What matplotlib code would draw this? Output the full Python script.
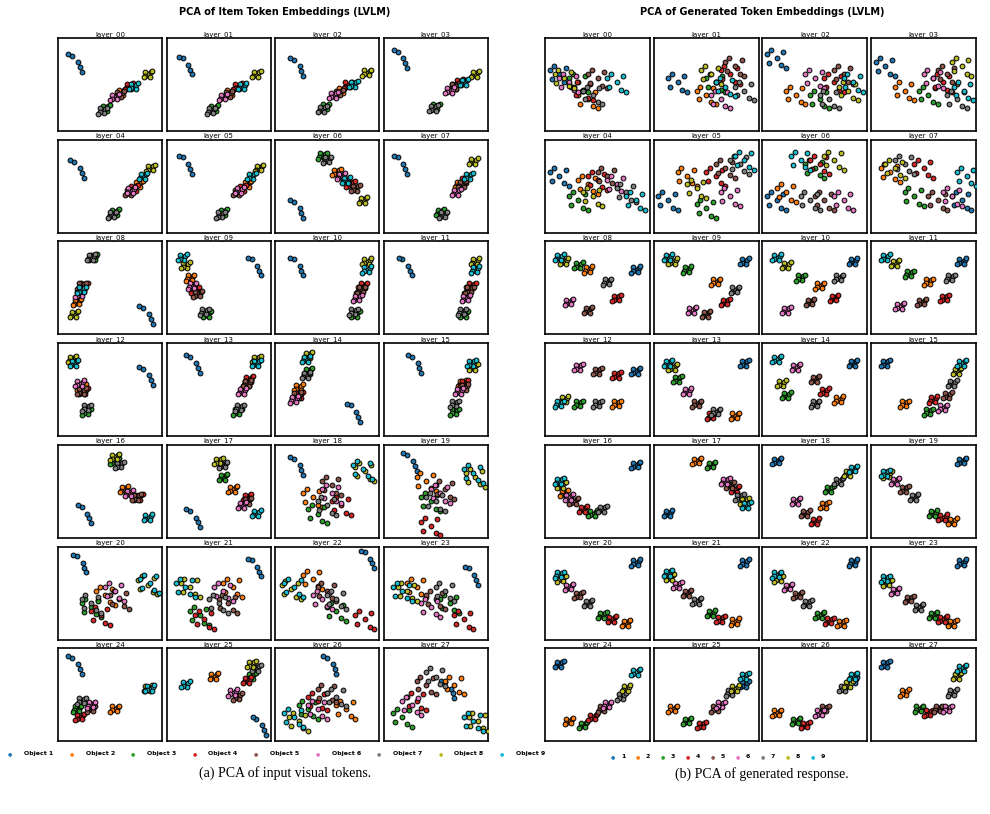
import matplotlib
matplotlib.use("Agg")
import matplotlib.pyplot as plt
import numpy as np

colors = ['#1f77b4', '#ff7f0e', '#2ca02c', '#d62728', '#8c564b', '#e377c2', '#7f7f7f', '#bcbd22', '#17becf']
left_labels = [f"Object {i}" for i in range(1, 10)]
right_labels = [str(i) for i in range(1, 10)]

# class centres per layer (x, y in 0..1), order objects 1..9
left_centers = [
 [(0.1,0.75),(0.62,0.38),(0.45,0.18),(0.7,0.45),(0.6,0.35),(0.55,0.32),(0.42,0.15),(0.9,0.6),(0.75,0.45)],
 [(0.12,0.72),(0.62,0.38),(0.45,0.18),(0.7,0.45),(0.6,0.35),(0.55,0.32),(0.42,0.15),(0.9,0.6),(0.75,0.45)],
 [(0.15,0.7),(0.65,0.4),(0.48,0.2),(0.72,0.47),(0.62,0.37),(0.57,0.34),(0.45,0.17),(0.92,0.62),(0.78,0.48)],
 [(0.1,0.8),(0.7,0.45),(0.5,0.2),(0.75,0.5),(0.7,0.45),(0.65,0.4),(0.48,0.18),(0.92,0.6),(0.8,0.5)],
 [(0.12,0.7),(0.8,0.5),(0.55,0.15),(0.75,0.45),(0.7,0.4),(0.72,0.42),(0.52,0.12),(0.93,0.7),(0.85,0.6)],
 [(0.12,0.75),(0.8,0.5),(0.55,0.15),(0.75,0.45),(0.7,0.4),(0.72,0.42),(0.52,0.12),(0.93,0.7),(0.85,0.6)],
 [(0.15,0.2),(0.6,0.65),(0.45,0.85),(0.75,0.5),(0.8,0.45),(0.65,0.6),(0.5,0.8),(0.88,0.3),(0.7,0.55)],
 [(0.1,0.75),(0.75,0.5),(0.55,0.15),(0.8,0.55),(0.78,0.5),(0.72,0.4),(0.58,0.12),(0.9,0.78),(0.85,0.6)],
 [(0.85,0.15),(0.15,0.3),(0.32,0.85),(0.22,0.5),(0.2,0.5),(0.18,0.4),(0.3,0.85),(0.12,0.15),(0.2,0.45)],
 [(0.85,0.75),(0.2,0.6),(0.38,0.15),(0.25,0.45),(0.28,0.4),(0.22,0.5),(0.35,0.18),(0.15,0.75),(0.12,0.85)],
 [(0.15,0.75),(0.85,0.45),(0.8,0.15),(0.88,0.5),(0.86,0.45),(0.82,0.35),(0.78,0.18),(0.92,0.8),(0.92,0.7)],
 [(0.15,0.75),(0.85,0.45),(0.8,0.15),(0.88,0.5),(0.86,0.45),(0.82,0.35),(0.78,0.18),(0.92,0.8),(0.92,0.7)],
 [(0.85,0.65),(0.2,0.5),(0.25,0.2),(0.22,0.45),(0.2,0.45),(0.18,0.55),(0.25,0.25),(0.1,0.85),(0.12,0.8)],
 [(0.2,0.8),(0.8,0.55),(0.7,0.2),(0.82,0.6),(0.8,0.55),(0.75,0.45),(0.72,0.25),(0.9,0.85),(0.9,0.8)],
 [(0.75,0.2),(0.2,0.5),(0.3,0.7),(0.2,0.4),(0.18,0.4),(0.15,0.35),(0.28,0.65),(0.3,0.9),(0.28,0.85)],
 [(0.25,0.8),(0.78,0.55),(0.7,0.2),(0.8,0.55),(0.8,0.5),(0.75,0.45),(0.7,0.3),(0.9,0.75),(0.88,0.8)],
 [(0.2,0.2),(0.65,0.5),(0.55,0.85),(0.8,0.4),(0.78,0.4),(0.7,0.45),(0.6,0.8),(0.55,0.9),(0.9,0.15)],
 [(0.2,0.15),(0.65,0.5),(0.55,0.65),(0.8,0.4),(0.8,0.35),(0.75,0.3),(0.55,0.8),(0.5,0.85),(0.9,0.2)],
 [(0.15,0.8),(0.35,0.4),(0.4,0.2),(0.65,0.3),(0.55,0.55),(0.55,0.45),(0.5,0.3),(0.9,0.72),(0.88,0.75)],
 [(0.2,0.85),(0.4,0.6),(0.45,0.35),(0.45,0.05),(0.6,0.5),(0.55,0.45),(0.5,0.35),(0.92,0.65),(0.9,0.7)],
 [(0.15,0.85),(0.45,0.45),(0.3,0.3),(0.4,0.2),(0.6,0.4),(0.55,0.5),(0.3,0.35),(0.9,0.58),(0.92,0.6)],
 [(0.85,0.8),(0.65,0.55),(0.3,0.2),(0.35,0.15),(0.6,0.35),(0.55,0.5),(0.5,0.35),(0.2,0.55),(0.15,0.55)],
 [(0.9,0.9),(0.35,0.65),(0.6,0.25),(0.9,0.15),(0.5,0.5),(0.45,0.4),(0.6,0.4),(0.12,0.52),(0.15,0.55)],
 [(0.85,0.7),(0.3,0.55),(0.65,0.35),(0.8,0.15),(0.5,0.4),(0.45,0.3),(0.6,0.5),(0.2,0.5),(0.15,0.5)],
 [(0.1,0.85),(0.55,0.3),(0.15,0.3),(0.18,0.2),(0.3,0.3),(0.3,0.35),(0.2,0.4),(0.9,0.55),(0.92,0.55)],
 [(0.9,0.1),(0.45,0.7),(0.85,0.7),(0.8,0.65),(0.7,0.45),(0.65,0.5),(0.9,0.8),(0.85,0.85),(0.15,0.6)],
 [(0.5,0.85),(0.7,0.3),(0.3,0.3),(0.4,0.4),(0.5,0.5),(0.4,0.3),(0.6,0.45),(0.2,0.15),(0.15,0.2)],
 [(0.6,0.55),(0.7,0.6),(0.15,0.2),(0.3,0.4),(0.4,0.6),(0.25,0.35),(0.5,0.7),(0.95,0.15),(0.9,0.15)],
]

right_centers = [
 [(0.1,0.6),(0.4,0.3),(0.3,0.5),(0.35,0.4),(0.5,0.55),(0.2,0.5),(0.45,0.35),(0.15,0.55),(0.7,0.5)],
 [(0.2,0.5),(0.5,0.35),(0.6,0.5),(0.75,0.6),(0.8,0.7),(0.65,0.3),(0.9,0.4),(0.55,0.6),(0.7,0.45)],
 [(0.1,0.8),(0.3,0.35),(0.55,0.3),(0.7,0.5),(0.8,0.6),(0.5,0.55),(0.65,0.3),(0.85,0.4),(0.9,0.5)],
 [(0.1,0.7),(0.3,0.4),(0.55,0.35),(0.7,0.5),(0.75,0.6),(0.6,0.55),(0.85,0.3),(0.9,0.7),(0.92,0.4)],
 [(0.1,0.6),(0.4,0.5),(0.3,0.3),(0.5,0.55),(0.6,0.6),(0.7,0.5),(0.8,0.4),(0.45,0.35),(0.9,0.3)],
 [(0.1,0.3),(0.3,0.6),(0.5,0.2),(0.6,0.6),(0.7,0.7),(0.75,0.35),(0.85,0.75),(0.4,0.45),(0.9,0.8)],
 [(0.1,0.3),(0.2,0.4),(0.5,0.7),(0.55,0.75),(0.6,0.3),(0.8,0.3),(0.45,0.3),(0.7,0.8),(0.35,0.8)],
 [(0.9,0.3),(0.15,0.65),(0.4,0.35),(0.5,0.7),(0.65,0.3),(0.8,0.35),(0.3,0.75),(0.2,0.7),(0.95,0.6)],
 [(0.9,0.7),(0.4,0.7),(0.3,0.75),(0.7,0.35),(0.4,0.2),(0.2,0.3),(0.6,0.55),(0.15,0.8),(0.1,0.85)],
 [(0.9,0.8),(0.6,0.55),(0.3,0.7),(0.7,0.3),(0.5,0.15),(0.35,0.2),(0.8,0.45),(0.15,0.8),(0.1,0.85)],
 [(0.9,0.8),(0.55,0.5),(0.35,0.6),(0.7,0.35),(0.45,0.3),(0.2,0.2),(0.75,0.6),(0.2,0.75),(0.1,0.85)],
 [(0.9,0.8),(0.55,0.55),(0.35,0.65),(0.72,0.35),(0.48,0.3),(0.25,0.25),(0.78,0.6),(0.2,0.78),(0.1,0.85)],
 [(0.9,0.7),(0.7,0.3),(0.3,0.3),(0.7,0.65),(0.5,0.7),(0.3,0.75),(0.5,0.3),(0.15,0.35),(0.1,0.3)],
 [(0.9,0.8),(0.8,0.15),(0.2,0.6),(0.55,0.15),(0.4,0.3),(0.3,0.45),(0.6,0.2),(0.15,0.75),(0.1,0.8)],
 [(0.9,0.8),(0.75,0.35),(0.2,0.4),(0.6,0.45),(0.5,0.6),(0.3,0.75),(0.5,0.3),(0.15,0.55),(0.1,0.85)],
 [(0.1,0.8),(0.3,0.3),(0.55,0.2),(0.6,0.35),(0.75,0.4),(0.7,0.25),(0.8,0.55),(0.85,0.7),(0.9,0.8)],
 [(0.9,0.8),(0.15,0.45),(0.45,0.2),(0.35,0.25),(0.25,0.35),(0.2,0.4),(0.55,0.25),(0.12,0.55),(0.1,0.6)],
 [(0.1,0.2),(0.4,0.85),(0.55,0.8),(0.8,0.5),(0.75,0.55),(0.7,0.6),(0.85,0.4),(0.9,0.35),(0.92,0.3)],
 [(0.1,0.85),(0.6,0.3),(0.65,0.5),(0.5,0.1),(0.4,0.2),(0.3,0.35),(0.75,0.6),(0.85,0.7),(0.9,0.75)],
 [(0.9,0.85),(0.8,0.1),(0.6,0.2),(0.7,0.15),(0.3,0.5),(0.2,0.6),(0.4,0.4),(0.12,0.68),(0.1,0.7)],
 [(0.9,0.85),(0.8,0.1),(0.55,0.2),(0.65,0.15),(0.3,0.45),(0.2,0.55),(0.4,0.35),(0.12,0.65),(0.1,0.7)],
 [(0.9,0.85),(0.8,0.12),(0.55,0.22),(0.65,0.15),(0.3,0.47),(0.2,0.57),(0.4,0.37),(0.12,0.67),(0.1,0.72)],
 [(0.9,0.85),(0.78,0.1),(0.55,0.2),(0.65,0.13),(0.32,0.45),(0.22,0.55),(0.42,0.35),(0.12,0.65),(0.1,0.7)],
 [(0.9,0.85),(0.8,0.1),(0.6,0.2),(0.7,0.15),(0.35,0.4),(0.2,0.5),(0.45,0.3),(0.12,0.6),(0.1,0.65)],
 [(0.1,0.85),(0.2,0.15),(0.35,0.1),(0.45,0.2),(0.55,0.3),(0.6,0.35),(0.75,0.45),(0.8,0.55),(0.9,0.75)],
 [(0.9,0.6),(0.15,0.3),(0.3,0.15),(0.45,0.1),(0.6,0.3),(0.65,0.35),(0.75,0.5),(0.8,0.55),(0.9,0.7)],
 [(0.9,0.65),(0.1,0.25),(0.3,0.15),(0.4,0.1),(0.6,0.3),(0.55,0.25),(0.8,0.55),(0.85,0.6),(0.9,0.7)],
 [(0.1,0.85),(0.3,0.5),(0.45,0.3),(0.55,0.25),(0.65,0.3),(0.75,0.3),(0.8,0.5),(0.85,0.7),(0.9,0.8)],
]

# fixed within-class point pattern (tight) and a wider one for scattered layers
offsets_x = [0.0, 0.03, -0.025, 0.02, -0.03, 0.045, -0.045]
offsets_y = [0.0, 0.025, 0.03, -0.03, -0.02, 0.04, -0.035]
wide_offsets_x = [0.0, 0.07, -0.06, 0.05, -0.08, 0.1, -0.1]
wide_offsets_y = [0.0, 0.08, 0.1, -0.09, -0.06, -0.12, 0.05]
blue_offsets_x = [0.0, 0.06, 0.08, -0.04, 0.1]
blue_offsets_y = [0.08, 0.0, -0.06, 0.1, -0.12]

W, H = 990, 814
fig = plt.figure(figsize=(9.9, 8.14), dpi=100)

def draw_panel(centers, x0, pitch_x, w, top0, pitch_y, h, blue_spread, wide_layers):
    for k, cen in enumerate(centers):
        r, c = divmod(k, 4)
        left = x0 + c * pitch_x
        top = top0 + r * pitch_y
        ax = fig.add_axes([left / W, 1 - (top + h) / H, w / W, h / H])
        for j, (cx, cy) in enumerate(cen):
            if j == 0 and blue_spread:
                ox, oy = blue_offsets_x, blue_offsets_y
            elif k in wide_layers:
                ox, oy = wide_offsets_x, wide_offsets_y
            else:
                ox, oy = offsets_x, offsets_y
            xs = [cx + o for o in ox]; ys = [cy + o for o in oy]
            ax.scatter(xs, ys, s=12, c=colors[j], edgecolors='black', linewidths=0.7, zorder=3)
        ax.set_xlim(-0.05, 1.05); ax.set_ylim(-0.1, 1.05)
        ax.set_xticks([]); ax.set_yticks([])
        for sp in ax.spines.values():
            sp.set_linewidth(1.2)
        ax.set_title(f"layer_{k:02d}", fontsize=5, pad=1.5)

draw_panel(left_centers, 58, 108.5, 104, 38, 101.7, 93, True, {18, 19, 20, 21, 22, 23, 26, 27})
draw_panel(right_centers, 545, 108.7, 105, 38, 101.7, 93, False, {0, 1, 2, 3, 4, 5, 6, 7})

fig.text(285 / W, 1 - 12 / H, "PCA of Item Token Embeddings (LVLM)", ha='center', va='center', fontsize=7, fontweight='bold')
fig.text(762 / W, 1 - 12 / H, "PCA of Generated Token Embeddings (LVLM)", ha='center', va='center', fontsize=7, fontweight='bold')

for i, lab in enumerate(left_labels):
    x = 10 + i * 61.5
    fig.text(x / W, 1 - 754 / H, "\u25CF", color=colors[i], fontsize=3.5, ha='center', va='center')
    fig.text((x + 14) / W, 1 - 754 / H, lab, fontsize=4.5, fontweight='bold', ha='left', va='center')
for i, lab in enumerate(right_labels):
    x = 613 + i * 25
    fig.text(x / W, 1 - 757 / H, "\u25CF", color=colors[i], fontsize=3.5, ha='center', va='center')
    fig.text((x + 8) / W, 1 - 757 / H, lab, fontsize=4.5, fontweight='bold', ha='left', va='center')

fig.text(285 / W, 1 - 773 / H, "(a) PCA of input visual tokens.", ha='center', va='center', fontsize=10, family='Liberation Serif')
fig.text(762 / W, 1 - 774 / H, "(b) PCA of generated response.", ha='center', va='center', fontsize=10, family='Liberation Serif')

fig.savefig("out.png", dpi=100)
